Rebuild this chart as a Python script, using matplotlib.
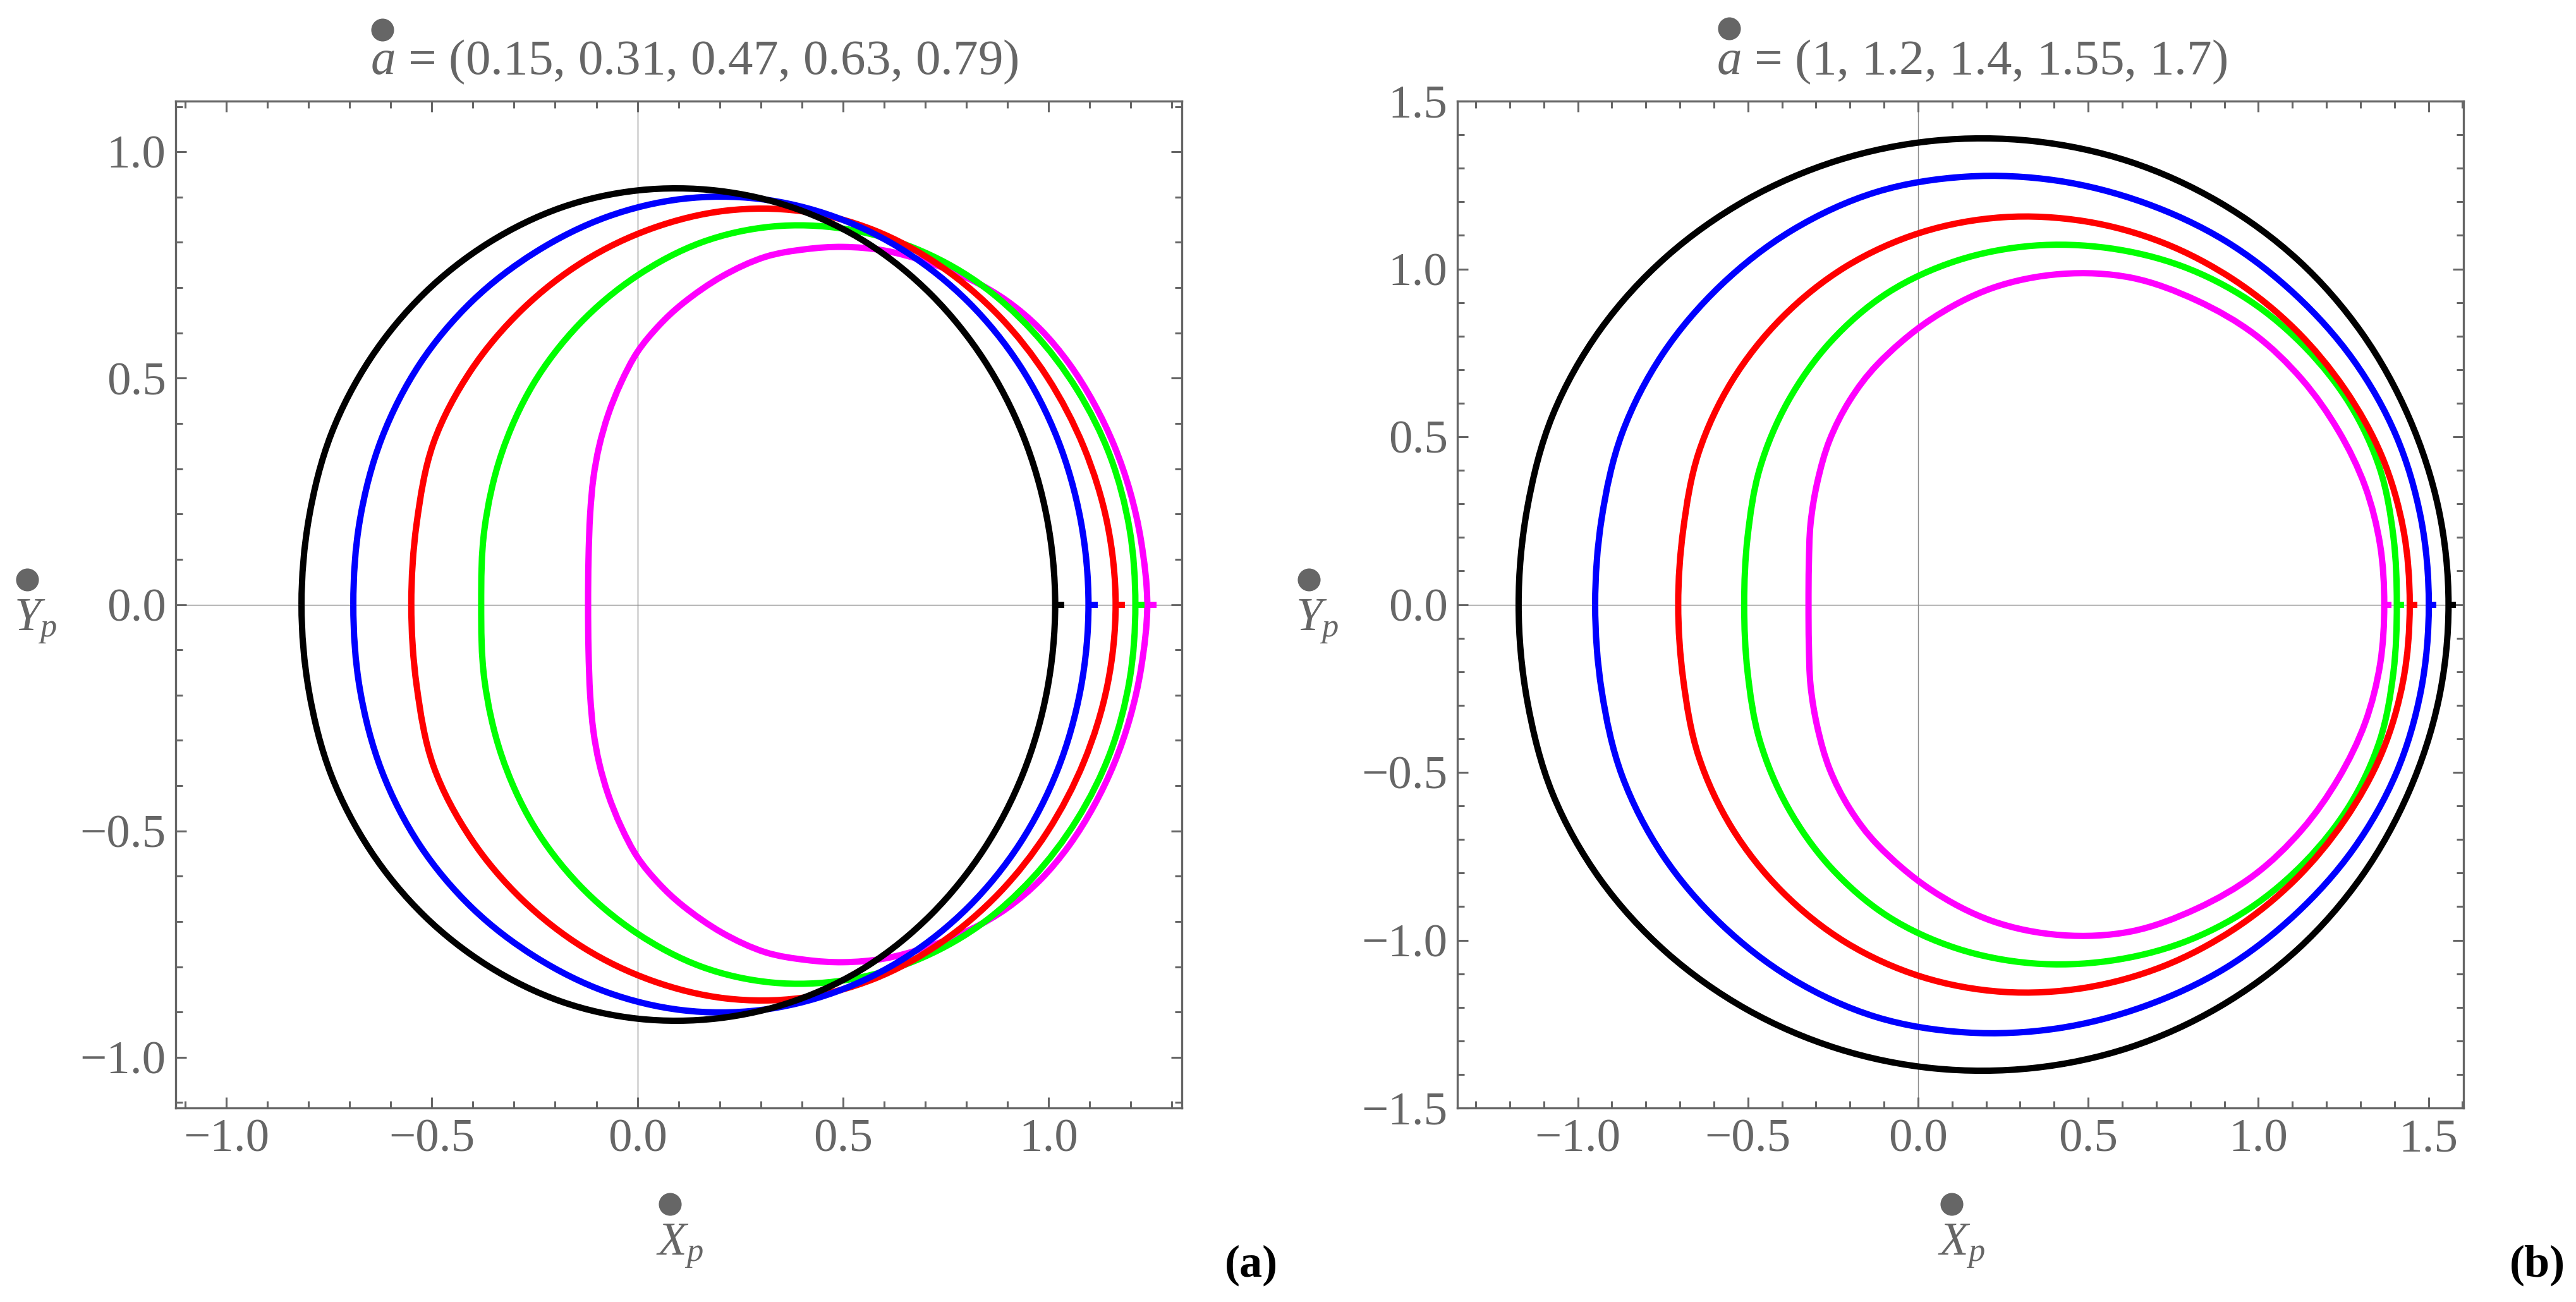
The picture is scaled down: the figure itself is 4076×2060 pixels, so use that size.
import numpy as np
import matplotlib
matplotlib.use("Agg")
import matplotlib.pyplot as plt
from matplotlib.ticker import MultipleLocator, FuncFormatter
from matplotlib.lines import Line2D
from matplotlib.path import Path
from matplotlib.patches import PathPatch

# upper half of every shadow contour
# (left edge on the axis -> over the top -> right edge on the axis);
# the lower half is the mirror image

# panel (a): a = 0.15, 0.31, 0.47, 0.63, 0.79
spins_a = [0.15, 0.31, 0.47, 0.63, 0.79]

a1_x = [-0.817, -0.799, -0.745, -0.649, -0.519, -0.362, -0.185, 0.003, 0.196, 0.384, 0.560,
        0.715, 0.843, 0.938, 0.996, 1.016]
a1_y = [0.000, 0.191, 0.376, 0.544, 0.687, 0.799, 0.877, 0.915, 0.914, 0.875, 0.798,
        0.684, 0.540, 0.373, 0.191, 0.000]

a2_x = [-0.691, -0.675, -0.622, -0.529, -0.401, -0.247, -0.075, 0.109, 0.297, 0.481, 0.653,
        0.805, 0.930, 1.022, 1.078, 1.097]
a2_y = [0.000, 0.187, 0.367, 0.532, 0.671, 0.779, 0.856, 0.896, 0.896, 0.856, 0.779,
        0.668, 0.528, 0.365, 0.186, 0.000]

a3_x = [-0.550, -0.537, -0.496, -0.405, -0.280, -0.131, 0.036, 0.215, 0.398, 0.575, 0.738,
        0.880, 0.997, 1.086, 1.143, 1.163]
a3_y = [0.000, 0.179, 0.357, 0.517, 0.652, 0.758, 0.831, 0.870, 0.869, 0.827, 0.747,
        0.637, 0.502, 0.347, 0.178, 0.000]

a4_x = [-0.380, -0.372, -0.331, -0.254, -0.142, -0.003, 0.156, 0.328, 0.503, 0.672, 0.827,
        0.960, 1.069, 1.150, 1.197, 1.211]
a4_y = [0.000, 0.167, 0.332, 0.486, 0.619, 0.725, 0.800, 0.835, 0.830, 0.788, 0.712,
        0.605, 0.475, 0.327, 0.166, 0.000]

a5_x = [-0.120, -0.119, -0.115, -0.107, -0.093, -0.071, -0.040, 0.000, 0.052, 0.110, 0.206,
        0.311, 0.410, 0.500, 0.600, 0.700, 0.810, 0.900, 0.980, 1.050, 1.110, 1.160, 1.198,
        1.225, 1.240]
a5_y = [0.000, 0.100, 0.200, 0.280, 0.350, 0.420, 0.490, 0.558, 0.616, 0.665, 0.725,
        0.768, 0.785, 0.790, 0.782, 0.758, 0.718, 0.670, 0.608, 0.532, 0.445, 0.350, 0.250,
        0.140, 0.000]

# panel (b): a = 1, 1.2, 1.4, 1.55, 1.7
spins_b = [1, 1.2, 1.4, 1.55, 1.7]

b1_x = [-1.174, -1.149, -1.074, -0.934, -0.740, -0.504, -0.237, 0.047, 0.338, 0.621, 0.885,
        1.117, 1.305, 1.443, 1.530, 1.559]
b1_y = [0.000, 0.285, 0.564, 0.819, 1.036, 1.206, 1.323, 1.382, 1.381, 1.320, 1.199,
        1.026, 0.808, 0.557, 0.284, 0.000]

b2_x = [-0.949, -0.930, -0.870, -0.751, -0.580, -0.369, -0.123, 0.142, 0.409, 0.665, 0.902,
        1.108, 1.279, 1.405, 1.478, 1.501]
b2_y = [0.000, 0.256, 0.510, 0.746, 0.951, 1.116, 1.229, 1.275, 1.263, 1.197, 1.084,
        0.924, 0.729, 0.503, 0.256, 0.000]

b3_x = [-0.705, -0.690, -0.645, -0.547, -0.400, -0.212, 0.010, 0.249, 0.490, 0.720, 0.929,
        1.108, 1.254, 1.363, 1.426, 1.445]
b3_y = [0.000, 0.225, 0.452, 0.666, 0.855, 1.007, 1.109, 1.154, 1.142, 1.078, 0.967,
        0.820, 0.642, 0.442, 0.225, 0.000]

b4_x = [-0.511, -0.501, -0.465, -0.383, -0.257, -0.089, 0.115, 0.336, 0.560, 0.776, 0.972,
        1.138, 1.269, 1.357, 1.397, 1.407]
b4_y = [0.000, 0.202, 0.406, 0.604, 0.783, 0.929, 1.025, 1.069, 1.062, 1.008, 0.907,
        0.766, 0.597, 0.405, 0.202, 0.000]

b5_x = [-0.322, -0.321, -0.316, -0.296, -0.260, -0.201, -0.120, 0.035, 0.218, 0.421, 0.626,
        0.819, 0.989, 1.128, 1.236, 1.314, 1.358, 1.370]
b5_y = [0.000, 0.119, 0.241, 0.365, 0.490, 0.608, 0.715, 0.848, 0.943, 0.985, 0.974,
        0.906, 0.805, 0.671, 0.517, 0.352, 0.177, 0.000]

colors = ["black", "#0000ff", "#ff0000", "#00ff00", "#ff00ff"]

GRAY = "#666666"
W, H = 4076, 2060
DPI = 200
LW = 3.6

plt.rcParams["font.family"] = ["Liberation Serif", "DejaVu Serif"]
plt.rcParams["mathtext.fontset"] = "custom"
plt.rcParams["mathtext.rm"] = "Liberation Serif"
plt.rcParams["mathtext.it"] = "Liberation Serif:italic"


def contour_path(xs, ys):
    # mirror the upper half, then run a closed centripetal Catmull-Rom
    # spline through the read points, written as cubic Bezier segments
    xs = np.asarray(xs, float)
    ys = np.asarray(ys, float)
    px = np.concatenate([xs, xs[::-1][1:-1]])
    py = np.concatenate([ys, -ys[::-1][1:-1]])
    P = np.column_stack([px, py])
    n = len(P)
    verts = [P[0]]
    codes = [Path.MOVETO]
    for i in range(n):
        p0, p1, p2, p3 = P[i - 1], P[i], P[(i + 1) % n], P[(i + 2) % n]
        d1 = np.linalg.norm(p1 - p0) ** 0.5
        d2 = np.linalg.norm(p2 - p1) ** 0.5
        d3 = np.linalg.norm(p3 - p2) ** 0.5
        b1 = (d1 ** 2 * p2 - d2 ** 2 * p0 + (2 * d1 ** 2 + 3 * d1 * d2 + d2 ** 2) * p1) / (3 * d1 * (d1 + d2))
        b2 = (d3 ** 2 * p1 - d2 ** 2 * p3 + (2 * d3 ** 2 + 3 * d3 * d2 + d2 ** 2) * p2) / (3 * d3 * (d3 + d2))
        verts += [b1, b2, p2]
        codes += [Path.CURVE4] * 3
    return Path(verts, codes)


def fmt(v, pos):
    s = "%.1f" % v
    return s.replace("-", "\u2212")


def draw_panel(ax, curves, xlim, ylim, title, title_x):
    ax.axhline(0, color="#8c8c8c", lw=0.5, zorder=1)
    ax.axvline(0, color="#8c8c8c", lw=0.5, zorder=1)
    n = len(curves)
    # first curve (smallest spin) on top
    for i, (xs, ys) in enumerate(curves):
        z = 10 + (n - i)
        ax.add_patch(PathPatch(contour_path(xs, ys), fill=False, edgecolor=colors[i],
                               lw=LW, joinstyle="round", zorder=z))
        ax.plot([xs[-1], xs[-1] + 0.022], [0, 0], color=colors[i], lw=LW,
                solid_capstyle="butt", zorder=z)
    ax.set_xlim(*xlim)
    ax.set_ylim(*ylim)
    ax.xaxis.set_major_locator(MultipleLocator(0.5))
    ax.xaxis.set_minor_locator(MultipleLocator(0.1))
    ax.yaxis.set_major_locator(MultipleLocator(0.5))
    ax.yaxis.set_minor_locator(MultipleLocator(0.1))
    ax.xaxis.set_major_formatter(FuncFormatter(fmt))
    ax.yaxis.set_major_formatter(FuncFormatter(fmt))
    ax.tick_params(which="both", direction="in", top=True, right=True, color=GRAY,
                   labelcolor=GRAY, labelsize=27, width=1.1)
    ax.tick_params(which="major", length=6.2)
    ax.tick_params(which="minor", length=3.9)
    ax.tick_params(axis="x", which="major", pad=6)
    ax.tick_params(axis="y", which="major", pad=5.5)
    for sp in ax.spines.values():
        sp.set_color(GRAY)
        sp.set_linewidth(1.2)
    ax.text(title_x, 1.027, r"$a$ = " + title, transform=ax.transAxes, ha="left",
            va="baseline", fontsize=28.5, color=GRAY)


fig = plt.figure(figsize=(W / DPI, H / DPI), dpi=DPI)
ax_a = fig.add_axes([278 / W, 1 - 1753 / H, 1592 / W, 1593 / H])
ax_b = fig.add_axes([2306 / W, 1 - 1753 / H, 1592 / W, 1593 / H])

curves_a = [(a1_x, a1_y), (a2_x, a2_y), (a3_x, a3_y), (a4_x, a4_y), (a5_x, a5_y)]
curves_b = [(b1_x, b1_y), (b2_x, b2_y), (b3_x, b3_y), (b4_x, b4_y), (b5_x, b5_y)]

title_a = "(" + ", ".join(str(s) for s in spins_a) + ")"
title_b = "(" + ", ".join(str(s) for s in spins_b) + ")"

draw_panel(ax_a, curves_a, (-1.123, 1.324), (-1.112, 1.112), title_a, 0.1935)
draw_panel(ax_b, curves_b, (-1.354, 1.603), (-1.5, 1.5), title_b, 0.2575)


def dot(px, py):
    fig.add_artist(Line2D([px / W], [1 - py / H], marker="o", ms=13, color=GRAY,
                          mec="none", transform=fig.transFigure))


# dots over the title a and the axis labels
dot(605, 47)
dot(2736, 45)
for ox in (0, 2028):
    fig.text((1038 + ox) / W, 1 - 1985 / H, r"$X_p$", fontsize=27, color=GRAY)
    dot(1060 + ox, 1905)
    fig.text((22 + ox) / W, 1 - 997 / H, r"$Y_p$", fontsize=27, color=GRAY)
    dot(43 + ox, 917)

fig.text(2022 / W, 1 - 2020 / H, "(a)", ha="right", fontsize=26, fontweight="bold")
fig.text(4059 / W, 1 - 2020 / H, "(b)", ha="right", fontsize=26, fontweight="bold")

fig.savefig("out.png", dpi=DPI)
